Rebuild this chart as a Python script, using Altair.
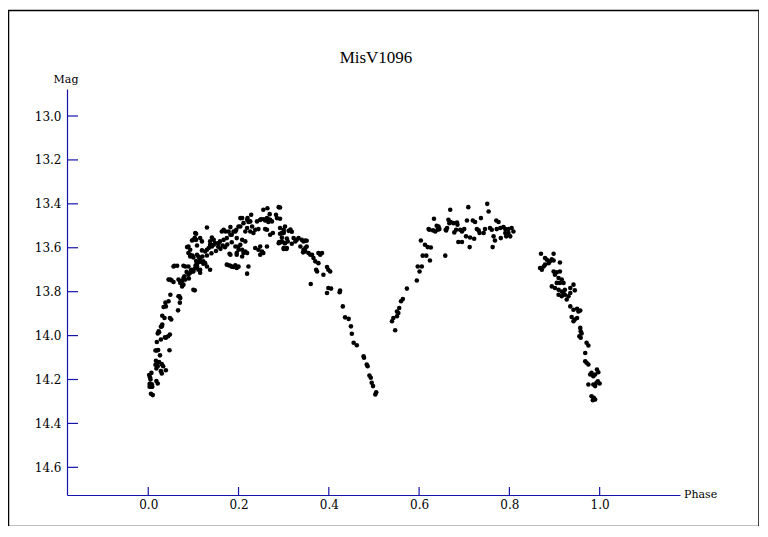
import altair as alt
import pandas as pd

# ---- data (phase, magnitude) ----
minimum_branch = [
    (.010,14.271),(.006,14.265),(.003,14.233),(.006,14.233),(.009,14.233),(.003,14.22),(.008,14.222),
    (.004,14.19),(.002,14.18),(.007,14.17),(.005,14.20),(.018,14.207),(.021,14.218),(.030,14.173),
    (.028,14.162),(.039,14.158),(.018,14.15),(.021,14.14),(.020,14.125),(.016,14.133),(.024,14.12),
    (.017,14.115),(.030,14.13),(.033,14.14),(.016,14.068),(.019,14.068),(.022,14.066),(.026,14.09),
    (.047,14.067),(.019,14.029),(.028,14.018),(.037,14.008),(.048,13.995),(.021,13.99),(.024,13.985),
    (.028,13.96),(.030,13.955),(.031,13.95),(.048,13.92),(.031,13.91),(.066,13.885),(.034,13.87),
    (.038,13.85),(.070,13.85),(.036,13.92),(.051,13.927),(.044,14.003),(.039,14.01),(.045,13.844),
    (.039,13.867),(.069,13.821),(.067,13.821),(.045,13.745),(.049,13.814),(.023,13.98),(.030,13.958),
]

first_maximum = [
    (.106,13.536),(.103,13.555),(.106,13.564),(.086,13.597),(.108,13.59),(.093,13.632),(.098,13.636),
    (.113,13.645),(.117,13.664),(.122,13.673),(.106,13.66),(.058,13.682),(.064,13.682),(.078,13.682),
    (.089,13.685),(.108,13.685),(.100,13.708),(.111,13.70),(.115,13.714),(.093,13.714),(.082,13.745),
    (.071,13.753),(.052,13.749),(.103,13.794),
    (.289,13.415),(.264,13.42),(.255,13.427),(.283,13.45),(.269,13.447),(.263,13.465),(.270,13.473),
    (.274,13.48),(.266,13.483),(.259,13.476),(.248,13.473),(.241,13.48),(.228,13.45),(.220,13.465),
    (.226,13.48),(.204,13.465),(.211,13.488),(.204,13.503),(.219,13.51),(.230,13.503),(.237,13.518),
    (.244,13.515),(.226,13.526),(.215,13.526),(.233,13.533),(.182,13.506),(.195,13.518),(.189,13.526),
    (.163,13.526),(.171,13.526),(.130,13.508),(.104,13.533),(.259,13.515),(.263,13.518),(.276,13.533),
    (.270,13.541),(.296,13.533),(.300,13.518),(.290,13.574),(.302,13.579),
    (.182,13.541),(.174,13.556),(.167,13.564),(.159,13.571),(.156,13.579),(.148,13.579),(.145,13.586),
    (.137,13.586),(.137,13.571),(.141,13.594),(.134,13.601),(.130,13.609),(.126,13.617),(.119,13.612),
    (.115,13.556),(.119,13.571),(.100,13.564),(.097,13.567),
    (.196,13.556),(.208,13.564),(.215,13.571),(.204,13.586),(.208,13.609),(.215,13.617),(.219,13.624),
    (.200,13.594),(.248,13.594),(.244,13.609),(.252,13.617),(.255,13.624),(.180,13.627),(.182,13.632),
    (.174,13.677),(.182,13.682),(.189,13.688),(.196,13.692),(.222,13.685),(.219,13.718),
    (.089,13.594),(.093,13.609),(.089,13.624),(.108,13.632),(.111,13.64),(.115,13.647),(.122,13.662),
    (.126,13.67),(.130,13.685),(.108,13.677),(.104,13.692),(.100,13.70),(.097,13.708),(.089,13.723),
    (.056,13.685),(.137,13.70),(.049,13.745),(.056,13.756),(.067,13.745),(.071,13.76),(.075,13.776),
    (.078,13.768),(.100,13.791),(.071,13.829),
    (.292,13.417),(.285,13.465),(.292,13.468),(.208,13.465),(.219,13.473),(.222,13.483),(.250,13.47),
    (.256,13.47),(.266,13.47),(.292,13.51),(.303,13.503),(.311,13.523),(.300,13.533),(.289,13.579),
    (.296,13.571),(.309,13.571),(.300,13.601),(.307,13.601),(.237,13.601),(.252,13.62),(.248,13.632),
    (.263,13.594),(.193,13.594),(.200,13.609),(.196,13.632),(.208,13.64),(.211,13.624),
    (.141,13.553),(.145,13.564),(.167,13.518),(.178,13.526),(.185,13.541),(.193,13.526),(.200,13.503),
    (.093,13.64),(.100,13.644),(.120,13.64),(.130,13.635),(.140,13.625),(.150,13.615),(.160,13.605),
    (.170,13.598),(.155,13.595),(.175,13.585),(.165,13.59),(.185,13.575),(.196,13.624),(.178,13.68),
    (.185,13.686),(.193,13.68),(.200,13.686),(.082,13.685),(.075,13.75),(.078,13.738),(.085,13.71),
    (.095,13.70),(.105,13.68),(.112,13.665),(.115,13.70),(.090,13.74),(.080,13.73),
]

descending_branch = [
    (.315,13.517),(.300,13.527),(.292,13.536),(.296,13.553),(.307,13.558),(.318,13.527),(.303,13.579),
    (.292,13.576),(.300,13.606),(.306,13.606),(.318,13.582),(.326,13.571),(.333,13.556),(.340,13.564),
    (.348,13.567),(.337,13.594),(.344,13.609),(.348,13.601),(.351,13.594),(.343,13.621),(.359,13.632),
    (.366,13.647),(.370,13.662),(.377,13.67),(.381,13.632),(.385,13.624),(.377,13.624),(.372,13.70),
    (.388,13.723),(.396,13.688),(.399,13.70),(.403,13.708),(.360,13.765),(.396,13.806),(.405,13.786),
    (.424,13.803),(.425,13.795),(.431,13.867),(.436,13.917),(.444,13.924),(.449,13.958),(.451,13.992),
    (.455,14.033),(.462,14.044),(.477,14.094),(.478,14.101),(.484,14.132),(.486,14.14),(.490,14.182),
    (.493,14.192),(.495,14.215),(.498,14.23),(.505,14.258),(.503,14.268),(.399,13.783),(.374,13.708),
    (.363,13.632),(.355,13.624),(.348,13.617),(.322,13.556),(.329,13.564),(.344,13.571),(.351,13.568),
]

second_maximum = [
    (.547,13.976),(.540,13.935),(.543,13.92),(.551,13.912),(.554,13.897),(.551,13.89),(.556,13.874),
    (.560,13.844),(.564,13.833),(.573,13.786),(.595,13.749),(.601,13.708),(.597,13.685),(.606,13.685),
    (.608,13.636),(.616,13.636),(.624,13.658),(.604,13.567),(.613,13.586),(.619,13.597),(.626,13.599),
    (.658,13.636),(.623,13.518),(.631,13.521),(.636,13.526),(.641,13.518),(.645,13.515),(.633,13.468),
    (.639,13.50),(.659,13.518),(.662,13.51),(.667,13.488),(.670,13.483),(.676,13.488),(.684,13.485),
    (.685,13.495),(.669,13.427),(.678,13.53),(.682,13.518),(.691,13.518),(.695,13.526),(.700,13.515),
    (.687,13.574),(.695,13.574),(.706,13.476),(.709,13.415),(.704,13.548),(.713,13.553),(.722,13.559),
    (.712,13.597),(.719,13.476),(.724,13.483),(.728,13.515),(.732,13.521),(.734,13.533),(.743,13.533),
    (.746,13.515),(.737,13.465),(.751,13.40),(.754,13.435),(.757,13.51),(.761,13.518),(.765,13.548),
    (.763,13.597),(.771,13.476),(.776,13.483),(.772,13.515),(.780,13.51),(.787,13.506),(.791,13.515),
    (.781,13.556),(.791,13.533),(.794,13.541),(.798,13.533),(.802,13.548),(.793,13.548),(.798,13.515),
    (.805,13.51),(.809,13.526),(.768,13.567),(.621,13.515),(.643,13.503),(.665,13.473),(.660,13.521),
]

final_descent = [
    (.870,13.627),(.898,13.627),(.879,13.647),(.883,13.655),(.890,13.662),(.894,13.652),(.898,13.658),
    (.887,13.67),(.879,13.677),(.876,13.685),(.868,13.692),(.872,13.70),(.912,13.667),(.898,13.708),
    (.905,13.712),(.901,13.723),(.912,13.708),(.909,13.738),(.916,13.745),(.912,13.76),(.905,13.76),
    (.920,13.76),(.894,13.776),(.901,13.783),(.909,13.791),(.916,13.799),(.923,13.791),(.935,13.783),
    (.942,13.768),(.909,13.814),(.916,13.821),(.923,13.814),(.931,13.821),(.927,13.836),(.920,13.806),
    (.935,13.806),(.945,13.794),(.935,13.867),(.942,13.882),(.950,13.878),(.953,13.89),(.957,13.886),
    (.938,13.915),(.945,13.927),(.950,13.92),(.942,13.935),(.957,13.965),(.958,13.98),(.960,13.99),
    (.955,14.003),(.958,14.01),(.971,14.033),(.975,14.045),(.968,14.079),(.968,14.117),(.971,14.124),
    (.975,14.132),(.994,14.155),(.997,14.167),(.982,14.17),(.979,14.177),(.986,14.185),(.990,14.177),
    (.996,14.208),(.993,14.215),(.986,14.223),(1.0,14.218),(.975,14.223),(.990,14.23),(.982,14.276),
    (.987,14.283),(.985,14.294),(.990,14.291),
]

x_ticks = [0.0, 0.2, 0.4, 0.6, 0.8, 1.0]
y_ticks = [13.0, 13.2, 13.4, 13.6, 13.8, 14.0, 14.2, 14.4, 14.6]
x_domain = [-0.18, 1.178]
y_domain = [12.877, 14.726]
title_text = "MisV1096"
x_title = "Phase"
y_title = "Mag"

# ---- build table ----
rows = []
for seg in (minimum_branch, first_maximum, descending_branch, second_maximum, final_descent):
    rows.extend(seg)
df = pd.DataFrame(rows, columns=["phase", "mag"])

W, H = 613, 406
AXIS = "#1414a8"
FONT = "DejaVu Serif"

xs = alt.Scale(domain=x_domain, nice=False, zero=False)
ys = alt.Scale(domain=y_domain, reverse=True, nice=False, zero=False)

x_axis = alt.Axis(values=x_ticks, format=".1f", title=None, ticks=False, grid=False,
                  domainColor=AXIS, domainWidth=1.2, labelFont=FONT, labelFontSize=12,
                  labelColor="black", labelPadding=4)
y_axis = alt.Axis(values=y_ticks, format=".1f", title=None, ticks=False, grid=False,
                  domainColor=AXIS, domainWidth=1.2, labelFont=FONT, labelFontSize=12,
                  labelColor="black", labelPadding=6)

points = alt.Chart(df).mark_point(filled=True, shape="circle", size=21, color="black", opacity=1).encode(
    x=alt.X("phase:Q", scale=xs, axis=x_axis),
    y=alt.Y("mag:Q", scale=ys, axis=y_axis),
)

xt = alt.Chart(pd.DataFrame({"phase": x_ticks})).mark_rule(color=AXIS, strokeWidth=1.2).encode(
    x=alt.X("phase:Q", scale=xs, axis=x_axis), y=alt.value(H), y2=alt.value(H - 8))
yt = alt.Chart(pd.DataFrame({"mag": y_ticks})).mark_rule(color=AXIS, strokeWidth=1.2).encode(
    y=alt.Y("mag:Q", scale=ys, axis=y_axis), x=alt.value(0), x2=alt.value(11))

one = pd.DataFrame({"a": [0]})
mag_lbl = alt.Chart(one).mark_text(font=FONT, fontSize=11, align="center", baseline="middle",
                                   color="black", text=y_title).encode(x=alt.value(-1), y=alt.value(-9))
phase_lbl = alt.Chart(one).mark_text(font=FONT, fontSize=11, align="left", baseline="middle",
                                     color="black", text=x_title).encode(x=alt.value(617), y=alt.value(H))
title_lbl = alt.Chart(one).mark_text(font="Liberation Serif", fontSize=17, align="center", baseline="middle",
                                     color="black", text=title_text).encode(x=alt.value(309), y=alt.value(-31))
frame = alt.Chart(one).mark_rect(fill=None, stroke="black", strokeWidth=1.5).encode(
    x=alt.value(-58.5), x2=alt.value(692), y=alt.value(-78.5), y2=alt.value(437.5))

chart = alt.layer(points, xt, yt, frame, mag_lbl, phase_lbl, title_lbl).properties(
    width=W, height=H,
    padding={"left": 59, "top": 81, "right": 79, "bottom": 31},
    autosize=alt.AutoSizeParams(type="none"),
    background="white",
).configure_view(stroke=None)

chart.save("out.html", embed_options={"renderer": "svg", "actions": False})
